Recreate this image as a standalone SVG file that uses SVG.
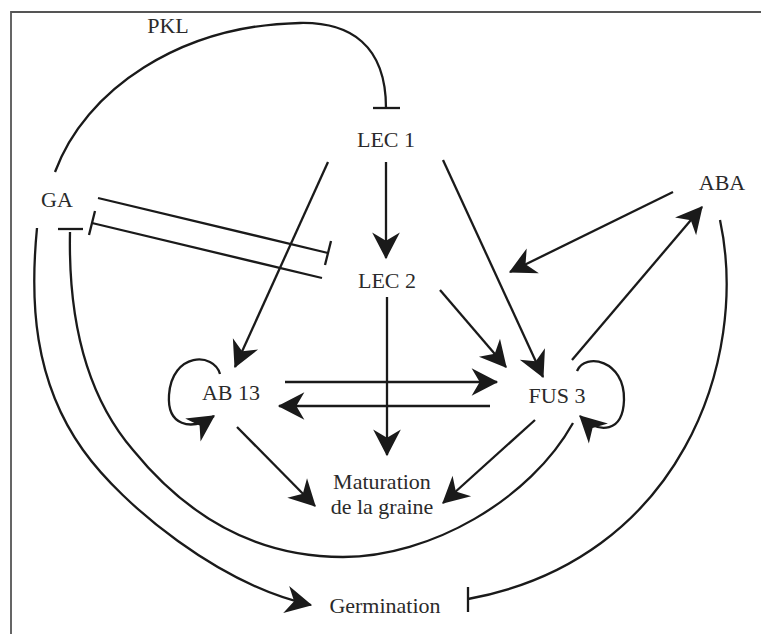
<svg xmlns="http://www.w3.org/2000/svg" width="761" height="634" viewBox="0 0 761 634">
<style>
.t{font-family:"Liberation Serif","Times New Roman",serif;font-size:22px;fill:#2a2a2a;text-anchor:middle}
.c{fill:none;stroke:#1a1a1a;stroke-width:2.3}
.a{marker-end:url(#arr)}
</style>
<defs>
<marker id="arr" markerUnits="userSpaceOnUse" markerWidth="30" markerHeight="30" viewBox="-24 -13 26 26" refX="0" refY="0" orient="auto">
<path d="M1,0 L-22,-12 L-15,0 L-22,12 Z" fill="#1a1a1a"/>
</marker>
</defs>
<rect width="761" height="634" fill="#fff"/>
<path d="M11,634 L11,12 L761,12" fill="none" stroke="#555" stroke-width="1.8"/>
<g id="connectors">
<!-- PKL -->
<path class="c" d="M55,172 C85,90 180,25 300,23 C350,22 386,45 386,108"/>
<line class="c" x1="373" y1="108" x2="400" y2="108"/>
<!-- GA -| LEC2 -->
<line class="c" x1="98" y1="198" x2="328" y2="253"/>
<line class="c" x1="331" y1="241" x2="325" y2="265"/>
<!-- LEC2 -| GA -->
<line class="c" x1="322" y1="278" x2="92" y2="223"/>
<line class="c" x1="95" y1="211" x2="89" y2="235"/>
<!-- LEC1 arrows -->
<line class="c a" x1="386" y1="162" x2="386" y2="258"/>
<line class="c a" x1="328" y1="162" x2="235" y2="367"/>
<line class="c a" x1="443" y1="160" x2="543" y2="377"/>
<!-- LEC2 arrows -->
<line class="c a" x1="440" y1="290" x2="506" y2="367"/>
<line class="c a" x1="387" y1="297" x2="387" y2="455"/>
<!-- ABA / FUS3 -->
<line class="c a" x1="673" y1="192" x2="510" y2="272"/>
<line class="c a" x1="572" y1="360" x2="702" y2="207"/>
<!-- AB13 <-> FUS3 -->
<line class="c a" x1="285" y1="382" x2="497" y2="382"/>
<line class="c a" x1="490" y1="406" x2="279" y2="406"/>
<!-- to maturation -->
<line class="c a" x1="237" y1="427" x2="315" y2="506"/>
<line class="c a" x1="535" y1="420" x2="443" y2="503"/>
<!-- self loops -->
<path class="c a" d="M220,374 C214,352 172,352 169,395 C167,425 190,432 214,416"/>
<path class="c a" d="M577,371 C585,352 625,360 624,400 C623,432 600,435 580,416"/>
<!-- FUS3 -| GA (inner arc) -->
<path class="c" d="M573,423 C530,500 430,557 343,557 C260,557 190,520 133,450 C90,400 68,330 70,232"/>
<line class="c" x1="58" y1="229" x2="83" y2="229"/>
<!-- GA -> Germination -->
<path class="c a" d="M37,228 C30,300 33,380 83,450 C123,506 220,585 311,605"/>
<!-- ABA -| Germination -->
<path class="c" d="M720,220 C750,360 680,560 468,599"/>
<line class="c" x1="468" y1="587" x2="468" y2="612"/>
</g>
<g id="PKL"><text class="t" x="168" y="33">PKL</text></g>
<g id="LEC1"><text class="t" x="386" y="147">LEC 1</text></g>
<g id="GA"><text class="t" x="57" y="207">GA</text></g>
<g id="ABA"><text class="t" x="722" y="190">ABA</text></g>
<g id="LEC2"><text class="t" x="387" y="288">LEC 2</text></g>
<g id="AB13"><text class="t" x="231" y="400">AB 13</text></g>
<g id="FUS3"><text class="t" x="557" y="403">FUS 3</text></g>
<g id="Maturation"><text class="t" x="382" y="489">Maturation</text><text class="t" x="382" y="514">de la graine</text></g>
<g id="Germination"><text class="t" x="385" y="613">Germination</text></g>
</svg>
